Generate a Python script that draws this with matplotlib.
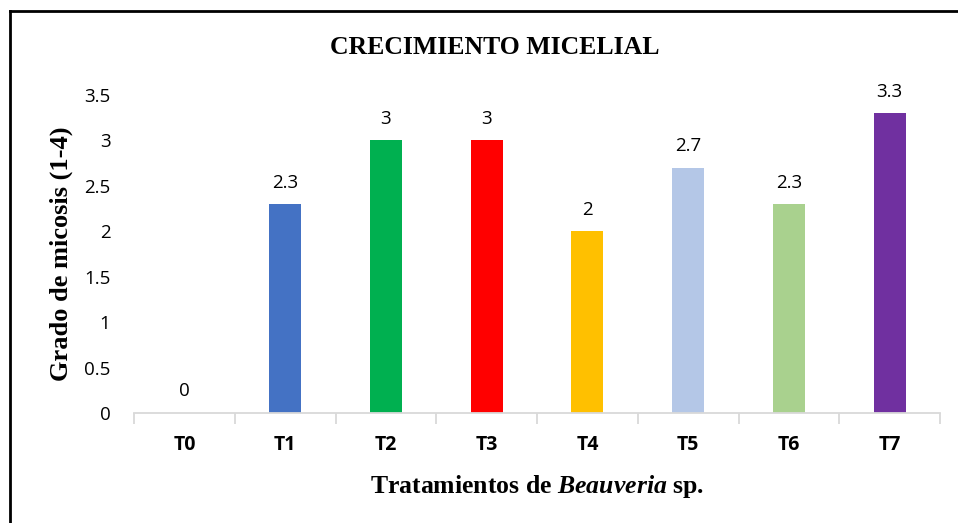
import matplotlib
matplotlib.use("Agg")
import matplotlib.pyplot as plt
import numpy as np
from matplotlib.lines import Line2D

plt.rcParams["mathtext.fontset"] = "custom"
plt.rcParams["mathtext.it"] = "Liberation Serif:italic:bold"
plt.rcParams["mathtext.rm"] = "Liberation Serif:bold"

categories = ["T0", "T1", "T2", "T3", "T4", "T5", "T6", "T7"]
values = [0, 2.3, 3, 3, 2, 2.7, 2.3, 3.3]
labels = ["0", "2.3", "3", "3", "2", "2.7", "2.3", "3.3"]
colors = ["#4472C4", "#4472C4", "#00B050", "#FF0000", "#FFC000", "#B4C7E7", "#A9D18E", "#7030A0"]
yticks = [0, 0.5, 1, 1.5, 2, 2.5, 3, 3.5]
ytick_labels = ["0", "0.5", "1", "1.5", "2", "2.5", "3", "3.5"]

fig = plt.figure(figsize=(9.58, 5.23), dpi=100)
ax = fig.add_axes([134/958, 1-413/523, (940-134)/958, (413-95)/523])

x = np.arange(len(categories))
ax.bar(x, values, width=0.32, color=colors)
for xi, v, lab in zip(x, values, labels):
    ax.annotate(lab, (xi, v), xytext=(0, 9), textcoords="offset points",
                ha="center", va="bottom", fontsize=13.5, family="Open Sans")

ax.set_xlim(-0.5, len(categories) - 0.5)
ax.set_ylim(0, 3.5)
ax.set_yticks(yticks)
ax.set_yticklabels(ytick_labels, fontsize=13.5, family="Open Sans")
ax.tick_params(axis="y", length=0, pad=17)

ax.set_xticks(x)
ax.set_xticklabels(categories, fontsize=14, fontweight="bold", family="Open Sans")
ax.tick_params(axis="x", length=0, pad=16)
ax.set_xticks(np.arange(-0.5, len(categories)), minor=True)
ax.tick_params(axis="x", which="minor", length=8, color="#D9D9D9", width=1.3)

for s in ["top", "right", "left"]:
    ax.spines[s].set_visible(False)
ax.spines["bottom"].set_color("#D9D9D9")
ax.spines["bottom"].set_linewidth(1.3)

ax.set_ylabel("Grado de micosis (1-4)", fontsize=19, fontweight="bold",
              family="Liberation Serif", labelpad=8)
ax.set_xlabel("Tratamientos de $\\mathit{Beauveria}$ sp.", fontsize=18.5,
              fontweight="bold", family="Liberation Serif", labelpad=13)

fig.text(495/958, 1-48/523, "CRECIMIENTO MICELIAL", ha="center", va="center",
         fontsize=18.5, fontweight="bold", family="Liberation Serif")

fig.add_artist(Line2D([9.5/958, 9.5/958], [0, 1-11/523], transform=fig.transFigure,
                      color="black", lw=2))
fig.add_artist(Line2D([9.5/958, 1], [1-11/523, 1-11/523], transform=fig.transFigure,
                      color="black", lw=2))

fig.savefig("out.png", dpi=100)
